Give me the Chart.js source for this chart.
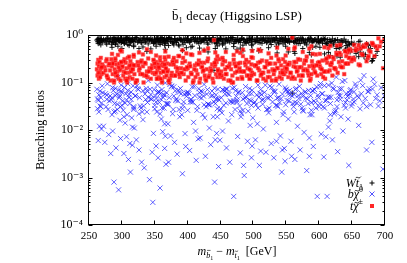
<!DOCTYPE html>
<html><head><meta charset="utf-8">
<script src="https://cdn.jsdelivr.net/npm/chart.js@4/dist/chart.umd.min.js"></script>
<style>html,body{margin:0;padding:0;background:#fff}</style>
</head><body>
<canvas id="c" width="407" height="263" style="width:407px;height:263px;display:block"></canvas>
<script>
// ---- data (mass splitting in GeV, branching ratios per model point) ----
const masses = [
 262,263,263,264,265,265,266,267,268,268,269,270,
 272,274,276,278,280,282,283,284,285,286,287,288,289,290,291,292,293,294,295,296,297,298,299,300,300,
 301,302,303,304,305,306,307,308,309,310,311,312,313,314,315,316,317,318,319,320,322,324,326,328,330,332,334,336,338,340,342,344,346,347,349,
 350,351,352,353,354,355,356,357,358,359,360,361,362,363,364,365,366,367,368,369,370,372,374,376,378,380,382,384,386,388,390,392,394,396,398,
 400,401,403,405,407,409,411,413,415,417,419,421,423,425,427,429,431,433,435,437,439,440,441,443,444,445,446,447,448,449,
 451,453,455,457,459,461,462,464,466,468,470,472,474,476,478,480,482,484,486,488,490,491,493,495,496,497,498,499,
 501,503,505,507,509,511,513,515,517,519,521,523,525,527,529,531,533,535,537,539,541,542,543,544,545,547,548,549,
 551,553,555,557,559,561,563,565,567,569,571,573,575,577,579,581,583,585,587,589,591,593,595,597,599,
 601,603,605,607,609,612,614,616,618,620,622,624,626,628,630,633,636,639,642,645,647,649,
 652,656,660,664,668,672,676,680,684,690,697,699,
 264,271,279,286,293,297,303,309,314,318,
 323,327,331,335,339,343,348,352,356,361,
 365,369,373,377,381,385,389,393,397,402,
 406,410,414,418,422,426,430,434,438,442,
 446,450,454,458,463,467,471,475,479,483,
 487,492,494,502,506,510,514,518,522,526,
 530,534,538,546,550,554,558,562,566,570,
 574,578,582,586,590,594,598,602,606,610,
 613,617,621,625,629,632,635,638,641,644,
 648,653,658,662,666,670,674,678,682,688,
 267,275,281,288,295,305,312,321,329,337,
 345,354,358,363,371,379,387,395,404,412,
 420,428,436,443,452,460,469,477,485,494,
 504,512,520,528,536,544,552,560,568,576,
 584,592,600,608,615,623,631,640,646,655,
 269,277,290,299,307,316,325,333,341,350,
 359,367,375,383,391,399,408,416,424,432,
 441,449,457,465,473,481,489,497,507,515,
 524,532,540,548,556,564,572,580,588,596,
 604,611,619,627,634,643,650,663,675,686,
 285,298,311,326,338,352,366,379,392,405,
 418,431,445,458,470,484,497,511,523,536,
 549,562,575,588,601,614,627,640,653,667,
 290,318,344,371,398,425,453,480,508,535,
 563,590,617,645,672,694,277,332,387,442,
 498,553,608,660,681,365,475,585,632,692
];
const brWt = [
 0.78,0.72,0.82,0.66,0.74,0.85,0.69,0.80,0.76,0.62,0.83,0.71,
 0.81,0.77,0.68,0.84,0.73,0.79,0.86,0.64,0.75,0.82,0.70,0.88,0.78,0.67,0.83,0.74,0.80,0.58,0.85,0.72,0.79,0.87,0.69,0.76,0.52,
 0.74,0.83,0.79,0.66,0.85,0.71,0.77,0.88,0.63,0.81,0.76,0.84,0.69,0.80,0.73,0.86,0.78,0.61,0.82,0.75,0.87,0.70,0.79,0.83,0.68,0.76,0.84,0.72,0.80,0.65,0.78,0.86,0.74,0.81,0.69,
 0.82,0.75,0.68,0.86,0.79,0.72,0.84,0.77,0.63,0.81,0.74,0.87,0.70,0.80,0.76,0.85,0.66,0.78,0.83,0.71,0.79,0.88,0.73,0.81,0.67,0.84,0.76,0.80,0.62,0.85,0.77,0.72,0.83,0.69,0.79,
 0.76,0.84,0.70,0.81,0.58,0.87,0.73,0.79,0.82,0.67,0.85,0.75,0.80,0.71,0.86,0.77,0.64,0.83,0.78,0.72,0.88,0.18,0.74,0.81,0.69,0.84,0.76,0.79,0.65,0.82,
 0.79,0.72,0.85,0.68,0.81,0.75,0.87,0.71,0.78,0.83,0.66,0.80,0.74,0.86,0.77,0.70,0.84,0.61,0.79,0.73,0.82,0.76,0.69,0.85,0.78,0.72,0.80,0.64,
 0.81,0.74,0.86,0.70,0.78,0.83,0.67,0.80,0.75,0.87,0.72,0.79,0.84,0.63,0.77,0.82,0.71,0.85,0.76,0.68,0.80,0.73,0.86,0.78,0.65,0.82,0.75,0.79,
 0.77,0.84,0.70,0.80,0.06,0.73,0.86,0.68,0.79,0.82,0.66,0.75,0.83,0.71,0.78,0.62,0.81,0.74,0.85,0.69,0.76,0.80,0.58,0.83,0.72,
 0.74,0.81,0.67,0.78,0.85,0.70,0.60,0.79,0.73,0.83,0.65,0.76,0.52,0.80,0.69,0.57,0.75,0.48,0.71,0.62,0.44,0.68,
 0.63,0.41,0.72,0.55,0.35,0.66,0.48,0.28,0.58,null,null,null,
 0.80,0.74,0.86,0.71,0.83,0.77,0.68,0.85,0.79,0.73,
 0.87,0.76,0.82,0.70,0.84,0.78,0.66,0.81,0.75,0.88,
 0.72,0.79,0.85,0.69,0.83,0.77,0.80,0.64,0.86,0.74,
 0.81,0.78,0.71,0.87,0.76,0.83,0.68,0.80,0.85,0.73,
 0.79,0.84,0.67,0.82,0.75,0.88,0.72,0.80,0.77,0.85,
 0.70,0.83,0.78,0.74,0.86,0.69,0.81,0.76,0.84,0.72,
 0.79,0.87,0.65,0.82,0.77,0.73,0.85,0.70,0.80,0.76,
 0.83,0.68,0.79,0.86,0.74,0.81,0.71,0.77,0.84,0.66,
 0.80,0.73,0.62,0.78,0.56,0.75,0.69,0.82,0.60,0.72,
 0.50,0.67,0.46,0.74,0.58,0.39,0.63,0.52,0.32,0.45,
 0.84,0.79,0.72,0.86,0.76,0.81,0.74,0.88,0.70,0.83,
 0.77,0.85,0.68,0.80,0.87,0.73,0.82,0.78,0.75,0.84,
 0.71,0.86,0.79,0.67,0.83,0.76,0.88,0.72,0.80,0.85,
 0.74,0.82,0.69,0.87,0.77,0.81,0.73,0.84,0.66,0.79,
 0.83,0.75,0.70,0.80,0.61,0.77,0.54,0.72,0.64,0.49,
 0.76,0.83,0.81,0.70,0.86,0.78,0.74,0.87,0.80,0.72,
 0.85,0.77,0.83,0.69,0.81,0.76,0.88,0.73,0.79,0.84,
 0.71,0.82,0.78,0.86,0.75,0.80,0.67,0.83,0.77,0.85,
 0.72,0.79,0.84,0.70,0.81,0.76,0.87,0.68,0.82,0.74,
 0.78,0.65,0.71,0.57,0.76,0.53,0.66,0.43,0.60,0.37,
 0.55,0.48,0.60,0.52,0.45,0.58,0.50,0.62,0.47,0.56,
 0.53,0.44,0.59,0.51,0.57,0.46,0.61,0.49,0.54,0.42,
 0.58,0.45,0.52,0.38,0.55,0.43,0.36,0.50,0.33,0.40,
 0.63,0.57,0.51,0.60,0.54,0.48,0.62,0.53,0.46,0.58,
 0.41,0.55,0.37,0.47,0.31,null,0.64,0.56,0.59,0.52,
 0.49,0.44,0.40,0.35,0.29,0.61,0.50,0.43,0.34,null
];
const brTchipm = [
 0.19,0.25,0.14,0.30,0.22,0.12,0.27,0.17,0.20,0.33,0.15,0.24,
 0.16,0.21,0.28,0.13,0.23,0.18,0.11,0.31,0.22,0.15,0.26,0.10,0.19,0.29,0.14,0.24,0.17,0.38,0.12,0.25,0.18,0.11,0.27,0.21,0.45,
 0.22,0.14,0.17,0.31,0.12,0.26,0.20,0.10,0.33,0.16,0.21,0.13,0.28,0.18,0.24,0.12,0.19,0.35,0.15,0.23,0.11,0.27,0.18,0.15,0.29,0.22,0.14,0.25,0.17,0.32,0.20,0.12,0.23,0.16,0.28,
 0.15,0.21,0.27,0.12,0.18,0.24,0.13,0.20,0.34,0.16,0.23,0.11,0.26,0.17,0.22,0.13,0.30,0.19,0.14,0.25,0.18,0.10,0.24,0.16,0.29,0.14,0.21,0.17,0.36,0.13,0.20,0.26,0.15,0.28,0.19,
 0.20,0.13,0.25,0.16,0.38,0.11,0.23,0.18,0.15,0.29,0.12,0.21,0.17,0.26,0.12,0.19,0.32,0.14,0.20,0.24,0.10,0.78,0.22,0.15,0.27,0.13,0.19,0.17,0.31,0.14,
 0.17,0.24,0.12,0.28,0.15,0.21,0.11,0.25,0.19,0.14,0.30,0.16,0.22,0.12,0.18,0.26,0.13,0.36,0.17,0.23,0.14,0.20,0.27,0.12,0.18,0.24,0.16,0.33,
 0.15,0.22,0.11,0.26,0.18,0.14,0.29,0.16,0.21,0.11,0.24,0.17,0.13,0.33,0.19,0.15,0.25,0.12,0.20,0.28,0.16,0.23,0.12,0.18,0.31,0.15,0.21,0.17,
 0.19,0.13,0.26,0.16,0.88,0.22,0.12,0.27,0.18,0.14,0.30,0.21,0.14,0.25,0.19,0.35,0.16,0.22,0.12,0.28,0.20,0.17,0.39,0.14,0.24,
 0.22,0.15,0.29,0.17,0.12,0.26,0.34,0.18,0.23,0.14,0.31,0.20,0.42,0.16,0.27,0.38,0.21,0.46,0.25,0.33,0.50,0.28,
 0.33,0.52,0.24,0.40,0.60,0.28,0.47,0.68,0.36,0.85,0.20,0.80,
 0.16,0.22,0.12,0.25,0.14,0.19,0.28,0.12,0.17,0.23,
 0.11,0.20,0.15,0.26,0.13,0.18,0.30,0.16,0.21,0.10,
 0.24,0.17,0.12,0.27,0.14,0.20,0.16,0.33,0.11,0.22,
 0.15,0.19,0.25,0.10,0.21,0.14,0.28,0.17,0.12,0.24,
 0.18,0.13,0.29,0.15,0.22,0.10,0.25,0.17,0.20,0.12,
 0.26,0.14,0.19,0.23,0.11,0.27,0.16,0.21,0.13,0.25,
 0.18,0.11,0.31,0.15,0.20,0.24,0.12,0.27,0.17,0.21,
 0.14,0.29,0.18,0.11,0.23,0.16,0.26,0.20,0.13,0.30,
 0.17,0.24,0.34,0.19,0.40,0.22,0.28,0.15,0.36,0.25,
 0.46,0.30,0.50,0.23,0.38,0.57,0.33,0.44,0.62,0.51,
 0.13,0.18,0.25,0.11,0.21,0.16,0.23,0.10,0.27,0.14,
 0.20,0.12,0.29,0.17,0.11,0.24,0.15,0.19,0.22,0.13,
 0.26,0.11,0.18,0.30,0.14,0.21,0.10,0.25,0.17,0.12,
 0.23,0.15,0.28,0.11,0.20,0.16,0.24,0.13,0.31,0.18,
 0.14,0.22,0.27,0.17,0.35,0.20,0.42,0.25,0.33,0.47,
 0.21,0.14,0.16,0.27,0.11,0.19,0.23,0.10,0.17,0.25,
 0.12,0.20,0.14,0.28,0.16,0.21,0.10,0.24,0.18,0.13,
 0.26,0.15,0.19,0.11,0.22,0.17,0.30,0.14,0.20,0.12,
 0.25,0.18,0.13,0.27,0.16,0.21,0.11,0.29,0.15,0.23,
 0.19,0.32,0.26,0.39,0.21,0.43,0.31,0.52,0.36,0.58,
 0.40,0.47,0.35,0.43,0.50,0.37,0.45,0.33,0.48,0.39,
 0.42,0.52,0.36,0.44,0.38,0.49,0.34,0.46,0.41,0.54,
 0.37,0.51,0.44,0.58,0.40,0.53,0.60,0.45,0.62,0.56,
 0.32,0.38,0.44,0.35,0.41,0.47,0.33,0.42,0.49,0.37,
 0.55,0.40,0.59,0.48,0.65,0.72,0.31,0.39,0.36,0.43,
 0.46,0.51,0.55,0.61,0.66,0.34,0.45,0.52,0.62,0.58
];
const brBchi0 = [
 0.072,0.045,0.028,0.006,0.055,0.024,0.012,0.066,0.031,0.048,0.0105,0.085,
 0.012,0.0055,0.031,0.094,0.008,0.052,0.0032,0.043,0.021,0.0095,0.068,0.0008,0.036,0.075,0.0042,0.057,0.027,0.13,0.00055,0.048,0.016,0.0066,0.088,0.033,0.062,
 0.041,0.026,0.0032,0.078,0.014,0.058,0.0072,0.021,0.094,0.0024,0.049,0.036,0.0013,0.063,0.018,0.0048,0.085,0.029,0.011,0.052,0.0062,0.074,0.0038,0.032,0.0021,0.067,0.0016,0.044,0.024,0.11,0.0009,0.056,0.0034,0.0003,0.071,
 0.033,0.052,0.0046,0.024,0.088,0.0026,0.064,0.038,0.0006,0.045,0.017,0.071,0.0092,0.056,0.029,0.0041,0.098,0.0019,0.061,0.035,0.0135,0.048,0.0075,0.083,0.027,0.0055,0.042,0.0031,0.069,0.019,0.058,0.0012,0.039,0.0084,0.051,
 0.026,0.062,0.0037,0.044,0.081,0.0145,0.053,0.0023,0.031,0.074,0.0068,0.047,0.021,0.091,0.0028,0.057,0.035,0.011,0.0049,0.066,0.019,0.039,0.0008,0.055,0.0085,0.028,0.072,0.0017,0.043,0.0061,
 0.048,0.0095,0.033,0.067,0.0042,0.058,0.0155,0.0021,0.039,0.076,0.0004,0.027,0.051,0.0073,0.064,0.0033,0.022,0.045,0.0011,0.082,0.036,0.0058,0.059,0.0125,0.041,0.0026,0.069,0.018,
 0.037,0.0062,0.055,0.029,0.0018,0.071,0.043,0.0105,0.062,0.0034,0.048,0.023,0.084,0.0052,0.039,0.0026,0.065,0.0145,0.031,0.092,0.0075,0.046,0.0013,0.057,0.021,0.0041,0.078,0.034,
 0.042,0.017,0.068,0.0058,0.052,0.031,0.0024,0.075,0.012,0.046,0.0038,0.059,0.026,0.0089,0.064,0.0014,0.036,0.0068,0.053,0.021,0.0045,0.071,0.029,0.0004,0.048,
 0.036,0.0082,0.058,0.0027,0.041,0.0004,0.088,0.0155,0.049,0.0062,0.072,0.024,0.13,0.0035,0.054,0.019,0.0095,0.11,0.043,0.0018,0.067,0.032,
 0.045,0.082,0.0125,0.058,0.14,0.0038,0.074,0.0055,0.092,0.032,0.0015,0.052,
 0.042,0.061,0.027,0.078,0.035,0.052,0.019,0.068,0.044,0.031,
 0.085,0.048,0.024,0.057,0.038,0.072,0.0085,0.046,0.063,0.029,
 0.054,0.036,0.091,0.022,0.067,0.041,0.075,0.033,0.0045,0.058,
 0.039,0.082,0.026,0.049,0.064,0.018,0.071,0.034,0.053,0.0062,
 0.045,0.028,0.069,0.037,0.056,0.021,0.079,0.043,0.032,0.061,
 0.047,0.025,0.074,0.039,0.0135,0.059,0.035,0.088,0.027,0.051,
 0.066,0.033,0.048,0.024,0.072,0.041,0.0028,0.056,0.037,0.083,
 0.029,0.063,0.045,0.021,0.068,0.038,0.054,0.095,0.031,0.0072,
 0.049,0.036,0.077,0.026,0.062,0.044,0.105,0.033,0.058,0.017,
 0.071,0.039,0.052,0.028,0.086,0.046,0.064,0.034,0.118,0.055,
 0.032,0.058,0.041,0.024,0.069,0.037,0.0052,0.053,0.029,0.075,
 0.044,0.062,0.022,0.048,0.035,0.081,0.027,0.057,0.039,0.0095,
 0.066,0.031,0.052,0.045,0.023,0.073,0.038,0.061,0.0018,0.043,
 0.034,0.056,0.027,0.079,0.047,0.0038,0.064,0.036,0.053,0.025,
 0.068,0.041,0.031,0.086,0.049,0.022,0.074,0.038,0.059,0.093,
 0.037,0.054,0.025,0.066,0.043,0.0115,0.071,0.032,0.048,0.028,
 0.059,0.036,0.083,0.045,0.021,0.062,0.039,0.0065,0.052,0.034,
 0.076,0.026,0.057,0.041,0.067,0.019,0.049,0.033,0.088,0.044,
 0.029,0.063,0.038,0.0022,0.055,0.071,0.035,0.047,0.026,0.081,
 0.058,0.042,0.097,0.031,0.074,0.051,0.036,0.112,0.065,0.046,
 0.048,0.031,0.056,0.022,0.067,0.039,0.0074,0.052,0.028,0.044,
 0.061,0.035,0.019,0.073,0.041,0.026,0.058,0.0036,0.047,0.033,
 0.069,0.024,0.051,0.038,0.082,0.0115,0.043,0.029,0.064,0.037,
 0.053,0.027,0.046,0.0021,0.059,0.034,0.071,0.025,0.049,0.0058,
 0.038,0.066,0.021,0.054,0.031,0.078,0.044,0.0165,0.062,0.036,
 0.0046,0.057,0.029,0.048,0.073,0.0135,0.039,0.0028,0.052,0.041
];
const xTickValues = [250,300,350,400,450,500,550,600,650,700];
const yTickValues = [1e-4,1e-3,1e-2,1e-1,1];
const yTickLabels = ['10\u207B\u2074','10\u207B\u00B3','10\u207B\u00B2','10\u207B\u00B9','10\u2070'];
const seriesNames = ['W t\u0303\u2081','b \u03C7\u0303\u2070','t \u03C7\u0303\u00B1'];
const titleText = 'b\u0304\u2081 decay (Higgsino LSP)';
const yTitle = 'Branching ratios';

const FONT = "'Liberation Serif', 'DejaVu Serif', serif";
function pts(vals){ const out=[]; masses.forEach((m,i)=>{ if(vals[i]!=null) out.push({x:m,y:vals[i]}); }); return out; }

function richText(ctx, pieces, x, y, align){
  let w=0;
  pieces.forEach(p=>{ ctx.font=(p.i?'italic ':'')+p.s+'px '+FONT; p.w=ctx.measureText(p.t).width; w+=p.w; });
  let cx = align==='right' ? x-w : (align==='center' ? x-w/2 : x);
  ctx.textBaseline='alphabetic'; ctx.textAlign='left';
  pieces.forEach(p=>{
    ctx.font=(p.i?'italic ':'')+p.s+'px '+FONT;
    const by=y+(p.dy||0);
    ctx.fillText(p.t, cx, by);
    if(p.acc){
      const ax=cx+p.w/2+(p.i?p.s*0.08:0), ay=by-p.s*(p.accH||0.72);
      ctx.save(); ctx.lineWidth=Math.max(0.6,p.s/14); ctx.strokeStyle='#000'; ctx.beginPath();
      const hw=p.s*0.22;
      if(p.acc==='~'){ ctx.moveTo(ax-hw,ay+hw*0.3); ctx.bezierCurveTo(ax-hw*0.4,ay-hw*0.7,ax+hw*0.1,ay+hw*0.9,ax+hw,ay-hw*0.3); }
      else { ctx.moveTo(ax-hw,ay); ctx.lineTo(ax+hw,ay); }
      ctx.stroke(); ctx.restore();
    }
    cx+=p.w;
  });
}

const deco = {
  id:'deco',
  afterDraw(chart){
    const {ctx, chartArea:a, scales:{x,y}} = chart;
    ctx.save();
    ctx.strokeStyle='#000'; ctx.lineWidth=1;
    const L=Math.round(a.left)-0.5, R=Math.round(a.right)-0.5, T=Math.round(a.top)+0.5, B=Math.round(a.bottom)-0.5;
    ctx.strokeRect(L,T,R-L,B-T);
    ctx.beginPath();
    xTickValues.forEach(v=>{ const px=Math.round(x.getPixelForValue(v))-0.5; ctx.moveTo(px,B); ctx.lineTo(px,B-4); ctx.moveTo(px,T); ctx.lineTo(px,T+4); });
    for(let e=-4;e<0;e++){
      for(let k=1;k<=9;k++){
        const v=k*Math.pow(10,e); const py=Math.round(y.getPixelForValue(v))+0.5; const len = k===1?4:2;
        ctx.moveTo(L,py); ctx.lineTo(L+len,py); ctx.moveTo(R,py); ctx.lineTo(R-len,py);
      }
    }
    ctx.stroke();
    ctx.fillStyle='#000';
    // x-axis title
    const cxm=(a.left+a.right)/2;
    richText(ctx,[
      {t:'m',i:true,s:12},{t:'b',i:true,s:8,dy:3,acc:'-',accH:0.95},{t:'1',s:6,dy:5},
      {t:' \u2212 ',s:12},
      {t:'m',i:true,s:12},{t:'t',i:true,s:8,dy:3,acc:'~',accH:0.85},{t:'1',s:6,dy:5},
      {t:'  [GeV]',s:12}
    ], cxm, 255, 'center');
    // legend
    const rx=a.right-22, mx=a.right-13;
    const rows=[a.bottom-42, a.bottom-31, a.bottom-19];
    richText(ctx,[{t:'W',i:true,s:12},{t:'t',i:true,s:12,acc:'~',accH:0.8},{t:'1',s:8,dy:3}], rx, rows[0]+4, 'right');
    richText(ctx,[{t:'b',i:true,s:12},{t:'\u03C7',i:true,s:12,acc:'~',accH:0.62},{t:'0',s:8,dy:-6}], rx, rows[1]+4, 'right');
    richText(ctx,[{t:'t',i:true,s:12},{t:'\u03C7',i:true,s:12,acc:'~',accH:0.62},{t:'\u00B1',s:8,dy:-6}], rx, rows[2]+4, 'right');
    ctx.lineWidth=1;
    ctx.strokeStyle='#000'; ctx.beginPath();
    ctx.moveTo(mx-2.5,rows[0]); ctx.lineTo(mx+2.5,rows[0]); ctx.moveTo(mx,rows[0]-2.5); ctx.lineTo(mx,rows[0]+2.5); ctx.stroke();
    ctx.strokeStyle='rgba(40,40,255,0.8)'; ctx.beginPath();
    ctx.moveTo(mx-2.5,rows[1]-2.5); ctx.lineTo(mx+2.5,rows[1]+2.5); ctx.moveTo(mx-2.5,rows[1]+2.5); ctx.lineTo(mx+2.5,rows[1]-2.5); ctx.stroke();
    ctx.fillStyle='rgba(255,0,0,0.85)'; ctx.fillRect(mx-2,rows[2]-2,4,4);
    ctx.restore();
  }
};

new Chart(document.getElementById('c'), {
  type:'scatter',
  data:{ datasets:[
    {label:seriesNames[0], data:pts(brWt), pointStyle:'cross', pointRadius:2.6, borderColor:'rgba(0,0,0,0.9)', borderWidth:1, order:3},
    {label:seriesNames[1], data:pts(brBchi0), pointStyle:'crossRot', pointRadius:3.6, borderColor:'rgba(30,30,255,0.7)', borderWidth:1, order:2},
    {label:seriesNames[2], data:pts(brTchipm), pointStyle:'rect', pointRadius:2.6, backgroundColor:'rgba(255,0,0,0.85)', borderColor:'rgba(255,90,90,0.5)', borderWidth:1, order:1}
  ]},
  options:{
    responsive:false, animation:false, devicePixelRatio:1,
    layout:{padding:{left:0,right:22,top:0,bottom:0}},
    plugins:{
      legend:{display:false}, tooltip:{enabled:false},
      title:{display:true, text:titleText, fullSize:false, color:'#000', font:{family:FONT,size:13,weight:'normal'}, padding:{top:9,bottom:10.4}}
    },
    scales:{
      x:{type:'linear', min:250, max:700,
        afterBuildTicks:s=>{ s.ticks = xTickValues.map(v=>({value:v})); },
        afterFit:s=>{ s.height=38; },
        grid:{display:false, drawTicks:false}, border:{display:false},
        ticks:{color:'#000', font:{family:FONT,size:11}, padding:5, maxRotation:0, autoSkip:false}
      },
      y:{type:'logarithmic', min:1e-4, max:1,
        afterBuildTicks:s=>{ s.ticks = yTickValues.map(v=>({value:v})); },
        afterFit:s=>{ s.width=89; },
        grid:{display:false, drawTicks:false}, border:{display:false},
        ticks:{color:'#000', font:{family:FONT,size:12}, padding:6, autoSkip:false,
          callback:(v)=>{ const i=yTickValues.findIndex(t=>Math.abs(t-v)/t<1e-6); return i>=0?yTickLabels[i]:''; }},
        title:{display:true, text:yTitle, color:'#000', font:{family:FONT,size:12}, padding:{top:34,bottom:0}}
      }
    }
  },
  plugins:[deco]
});
</script>
</body></html>
